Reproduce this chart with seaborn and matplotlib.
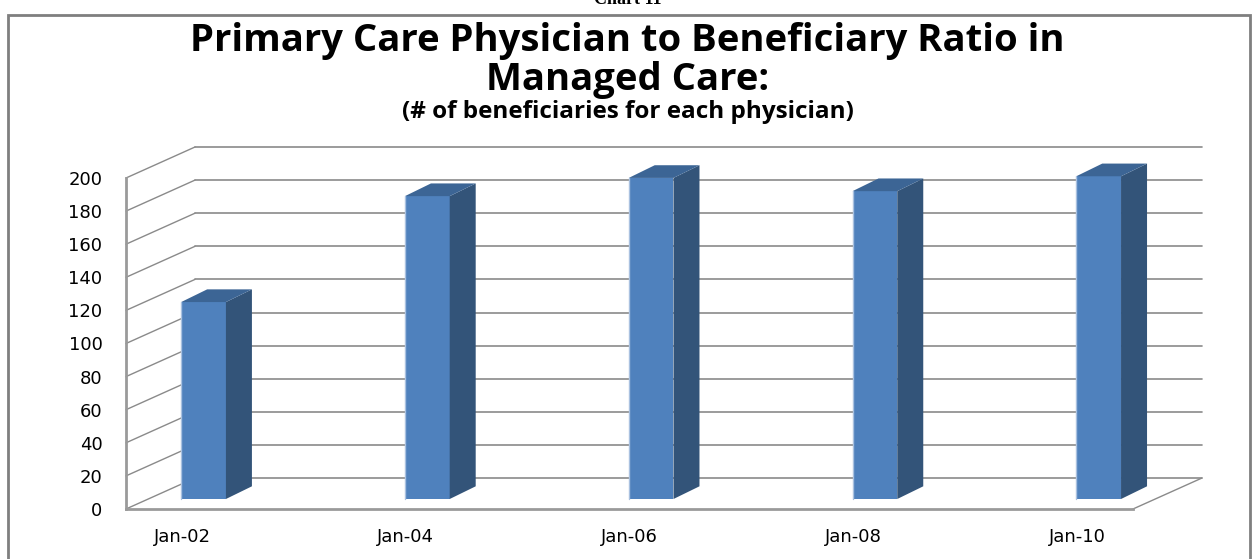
import numpy as np
import pandas as pd
import matplotlib
matplotlib.use("Agg")
import matplotlib.pyplot as plt
import seaborn as sns
from matplotlib.patches import Polygon, Rectangle
from matplotlib.lines import Line2D

# ---- data ----
categories = ["Jan-02", "Jan-04", "Jan-06", "Jan-08", "Jan-10"]
ratios = [119, 183, 194, 186, 195]
yticks = [0, 20, 40, 60, 80, 100, 120, 140, 160, 180, 200]
title_line1 = "Primary Care Physician to Beneficiary Ratio in"
title_line2 = "Managed Care:"
subtitle = "(# of beneficiaries for each physician)"
header = "Chart 11"

# ---- layout (pixels) ----
W, H, DPI = 1255, 559, 100
L, R, B, T = 126, 1133, 509, 178          # front plane of the 3D box
FULL_D = (69, 31)                          # back wall offset (right, up)
BAR_PLANE = (21.6, 10)                     # bars' front face offset
BAR_D = (26, 12.7)                         # bar depth

FRONT = "#4f81bd"
SIDE = "#335479"
TOP = "#3c6595"
GRID = "#8a8a8a"

sns.set_theme(style="white")
plt.rcParams["font.family"] = ["DejaVu Sans"]

fig = plt.figure(figsize=(W / DPI, H / DPI), dpi=DPI)
ax = fig.add_axes([L / W, 1 - B / H, (R - L) / W, (B - T) / H])

df = pd.DataFrame({"period": categories, "ratio": ratios})
sns.barplot(data=df, x="period", y="ratio", ax=ax, color=FRONT,
            width=0.2, saturation=1, zorder=5)
xmin, xmax = -0.25, 4.25
ax.set_xlim(xmin, xmax)
ax.set_ylim(0, 200)

px_x = (R - L) / (xmax - xmin)
px_y = (B - T) / 200.0

def d(p):
    return p[0] / px_x, p[1] / px_y

Dx, Dy = d(FULL_D)
ox, oy = d(BAR_PLANE)
bx, by = d(BAR_D)

# back wall gridlines and side wall diagonals
for v in yticks:
    ax.add_line(Line2D([xmin + Dx, xmax + Dx], [v + Dy, v + Dy], color=GRID,
                       lw=1.2, clip_on=False, zorder=1))
    ax.add_line(Line2D([xmin, xmin + Dx], [v, v + Dy], color=GRID,
                       lw=1.0, clip_on=False, zorder=1))
# floor right edge
ax.add_line(Line2D([xmax, xmax + Dx], [0, Dy], color=GRID, lw=1.0,
                   clip_on=False, zorder=1))

# 3D bars: shift front faces, add side and top faces
for p in list(ax.patches):
    x0 = p.get_x() + ox
    w = p.get_width()
    h = p.get_height()
    x1 = x0 + w
    y0 = oy
    y1 = oy + h
    p.set_x(x0)
    p.set_y(y0)
    p.set_clip_on(False)
    p.set_edgecolor("none")
    side = Polygon([(x1, y0), (x1, y1), (x1 + bx, y1 + by), (x1 + bx, y0 + by)],
                   closed=True, facecolor=SIDE, edgecolor="none",
                   clip_on=False, zorder=5)
    top = Polygon([(x0, y1), (x1, y1), (x1 + bx, y1 + by), (x0 + bx, y1 + by)],
                  closed=True, facecolor=TOP, edgecolor="none",
                  clip_on=False, zorder=5)
    ax.add_patch(side)
    ax.add_patch(top)
    # thin light highlight along the left edge of the front face
    ax.add_line(Line2D([x0, x0], [y0, y1], color="#a9c1e0", lw=1.0,
                       clip_on=False, zorder=6))

for s in ["top", "right"]:
    ax.spines[s].set_visible(False)
for s in ["left", "bottom"]:
    ax.spines[s].set_color("#9a9a9a")
    ax.spines[s].set_linewidth(2)
ax.set_facecolor("none")
ax.set_xlabel("")
ax.set_ylabel("")
ax.set_yticks(yticks)
ax.set_yticklabels([str(v) for v in yticks])
ax.tick_params(axis="y", length=0, pad=17, labelsize=13, labelcolor="#000000")
ax.tick_params(axis="x", length=0, pad=14, labelsize=13, labelcolor="#000000")
ax.grid(False)

# titles
fig.text(0.5, 1 - 41 / H, title_line1, ha="center", va="center",
         fontsize=27.5, fontweight="bold", family="Open Sans", color="black")
fig.text(0.5, 1 - 80 / H, title_line2, ha="center", va="center",
         fontsize=27.5, fontweight="bold", family="Open Sans", color="black")
fig.text(0.5, 1 - 112 / H, subtitle, ha="center", va="center",
         fontsize=17.5, fontweight="bold", family="Open Sans", color="black")
fig.text(0.5, 1.0, header, ha="center", va="center", fontsize=13,
         fontweight="bold", family="Liberation Serif", color="black")

# outer chart border
fig.patches.append(Rectangle((8 / W, -0.05), (1250 - 8) / W, 1 - 15 / H + 0.05,
                             transform=fig.transFigure, fill=False,
                             edgecolor="#7f7f7f", lw=2))

fig.savefig("out.png", dpi=DPI)
